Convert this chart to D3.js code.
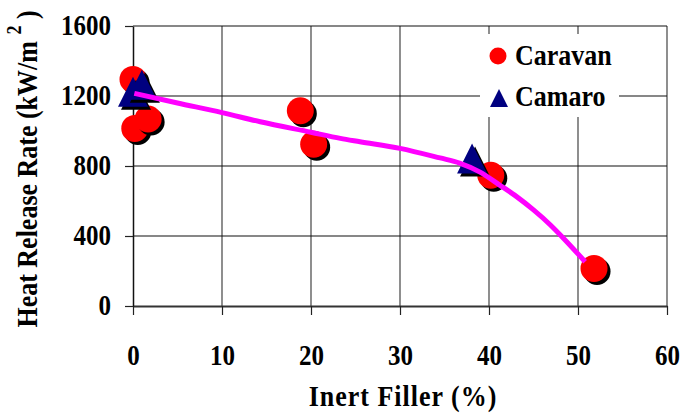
<!DOCTYPE html>
<html>
<head>
<meta charset="utf-8">
<script src="https://cdn.jsdelivr.net/npm/d3@7"></script>
<style>
  html, body { margin: 0; padding: 0; background: #fff; }
  svg { display: block; }
</style>
</head>
<body>
<svg id="chart" width="681" height="415"></svg>
<script>
// Heat release rate vs. inert filler content
const caravanX = [0, 0.2, 1.7, 18.8, 20.3, 40.2, 51.8];
const caravanY = [1295, 1015, 1069, 1116, 924, 747, 215];

const camaroX = [0, 1.0, 38.1];
const camaroY = [1225, 1265, 843];

// fitted trend curve
const trendX = [0.15, 5, 10, 14.3, 20, 23.3, 25.5, 30, 34.5, 36.7, 39, 41.2, 43.1, 45, 46.9, 48.2, 50.8];
const trendY = [1215, 1160, 1105, 1053, 993, 958, 939, 901, 846, 817, 765, 691, 625, 549, 463, 396, 253];

const xTicks = [0, 10, 20, 30, 40, 50, 60];
const yTicks = [0, 400, 800, 1200, 1600];

const seriesNames = ["Caravan", "Camaro"];

const FONT = "'Liberation Serif', 'Times New Roman', serif";
const STRETCH = 1.15;

const svg = d3.select("#chart");
svg.append("rect").attr("width", 681).attr("height", 415).attr("fill", "#fff");

const x = d3.scaleLinear().domain([0, 60]).range([133, 667]);
const y = d3.scaleLinear().domain([0, 1600]).range([306, 26]);

// grid lines
const grid = svg.append("g");
grid.selectAll("line.v").data(xTicks.slice(1)).join("line")
  .attr("x1", d => x(d)).attr("x2", d => x(d))
  .attr("y1", y(0)).attr("y2", y(1600))
  .attr("stroke", "#444").attr("stroke-width", 1.2);
grid.selectAll("line.h").data(yTicks.slice(1)).join("line")
  .attr("x1", x(0)).attr("x2", x(60))
  .attr("y1", d => y(d)).attr("y2", d => y(d))
  .attr("stroke", "#111").attr("stroke-width", 1.2);

// axes
const fmt = d3.format("d");
const xAxis = svg.append("g")
  .attr("transform", `translate(0,${y(0)})`)
  .call(d3.axisBottom(x).tickValues(xTicks).tickFormat(fmt).tickSize(9).tickPadding(0).tickSizeOuter(0));
const yAxis = svg.append("g")
  .attr("transform", `translate(${x(0)},0)`)
  .call(d3.axisLeft(y).tickValues(yTicks).tickFormat(fmt).tickSize(8).tickSizeOuter(0));

xAxis.select(".domain").attr("stroke", "#333").attr("stroke-width", 2);
yAxis.select(".domain").attr("stroke", "#111").attr("stroke-width", 1.5);
xAxis.selectAll(".tick line").attr("stroke", "#222").attr("stroke-width", 1.2);
yAxis.selectAll(".tick line").attr("stroke", "#222").attr("stroke-width", 1.2);

xAxis.selectAll(".tick text")
  .attr("y", 0).attr("dy", null)
  .attr("transform", `translate(0,59) scale(1,${STRETCH})`)
  .attr("font-family", FONT).attr("font-weight", "bold").attr("font-size", 25)
  .attr("fill", "#000");
yAxis.selectAll(".tick text")
  .attr("x", 0).attr("dy", null)
  .attr("transform", `translate(-22,8.5) scale(1,${STRETCH})`)
  .attr("font-family", FONT).attr("font-weight", "bold").attr("font-size", 25)
  .attr("fill", "#000");

// markers
function triPath(s) {
  const h = s / 2;
  return `M0,${-h}L${h},${h}L${-h},${h}Z`;
}

const caravan = caravanX.map((v, i) => ({ x: v, y: caravanY[i] }));
const camaro = camaroX.map((v, i) => ({ x: v, y: camaroY[i] }));

const marks = svg.append("g");
caravan.forEach(d => {
  marks.append("circle").attr("cx", x(d.x) + 3).attr("cy", y(d.y) + 3).attr("r", 13.5).attr("fill", "#000");
  marks.append("circle").attr("cx", x(d.x)).attr("cy", y(d.y)).attr("r", 13.5).attr("fill", "#ff0000");
});
camaro.forEach(d => {
  marks.append("path").attr("d", triPath(30)).attr("transform", `translate(${x(d.x) + 3},${y(d.y) + 3})`).attr("fill", "#000");
  marks.append("path").attr("d", triPath(30)).attr("transform", `translate(${x(d.x)},${y(d.y)})`).attr("fill", "#000080");
});

// trend line
const trend = trendX.map((v, i) => [v, trendY[i]]);
svg.append("path")
  .attr("d", d3.line().x(d => x(d[0])).y(d => y(d[1])).curve(d3.curveMonotoneX)(trend))
  .attr("fill", "none").attr("stroke", "#ff00ff").attr("stroke-width", 5)
  .attr("stroke-linecap", "butt");

// legend
const legend = svg.append("g");
legend.append("rect").attr("x", 480).attr("y", 34).attr("width", 139).attr("height", 83).attr("fill", "#fff");
legend.append("circle").attr("cx", 498).attr("cy", 56).attr("r", 8.5).attr("fill", "#ff0000");
legend.append("path").attr("d", triPath(18)).attr("transform", "translate(499,98)").attr("fill", "#000080");
[65, 106].forEach((by, i) => {
  legend.append("text")
    .attr("transform", `translate(515,${by}) scale(1,${STRETCH})`)
    .attr("font-family", FONT).attr("font-weight", "bold").attr("font-size", 26)
    .text(seriesNames[i]);
});

// axis titles
svg.append("text")
  .attr("transform", `translate(403,406) scale(1,${STRETCH})`)
  .attr("text-anchor", "middle")
  .attr("font-family", FONT).attr("font-weight", "bold").attr("font-size", 26)
  .attr("letter-spacing", 1)
  .text("Inert Filler (%)");

const yt = svg.append("text")
  .attr("transform", `translate(37,169) rotate(-90) scale(1,${STRETCH})`)
  .attr("text-anchor", "middle")
  .attr("font-family", FONT).attr("font-weight", "bold").attr("font-size", 26);
yt.append("tspan").text("Heat Release Rate (kW/m ");
yt.append("tspan").attr("dy", -14).attr("font-size", 18).text("2");
yt.append("tspan").attr("dy", 14).text(" )");
</script>
</body>
</html>
